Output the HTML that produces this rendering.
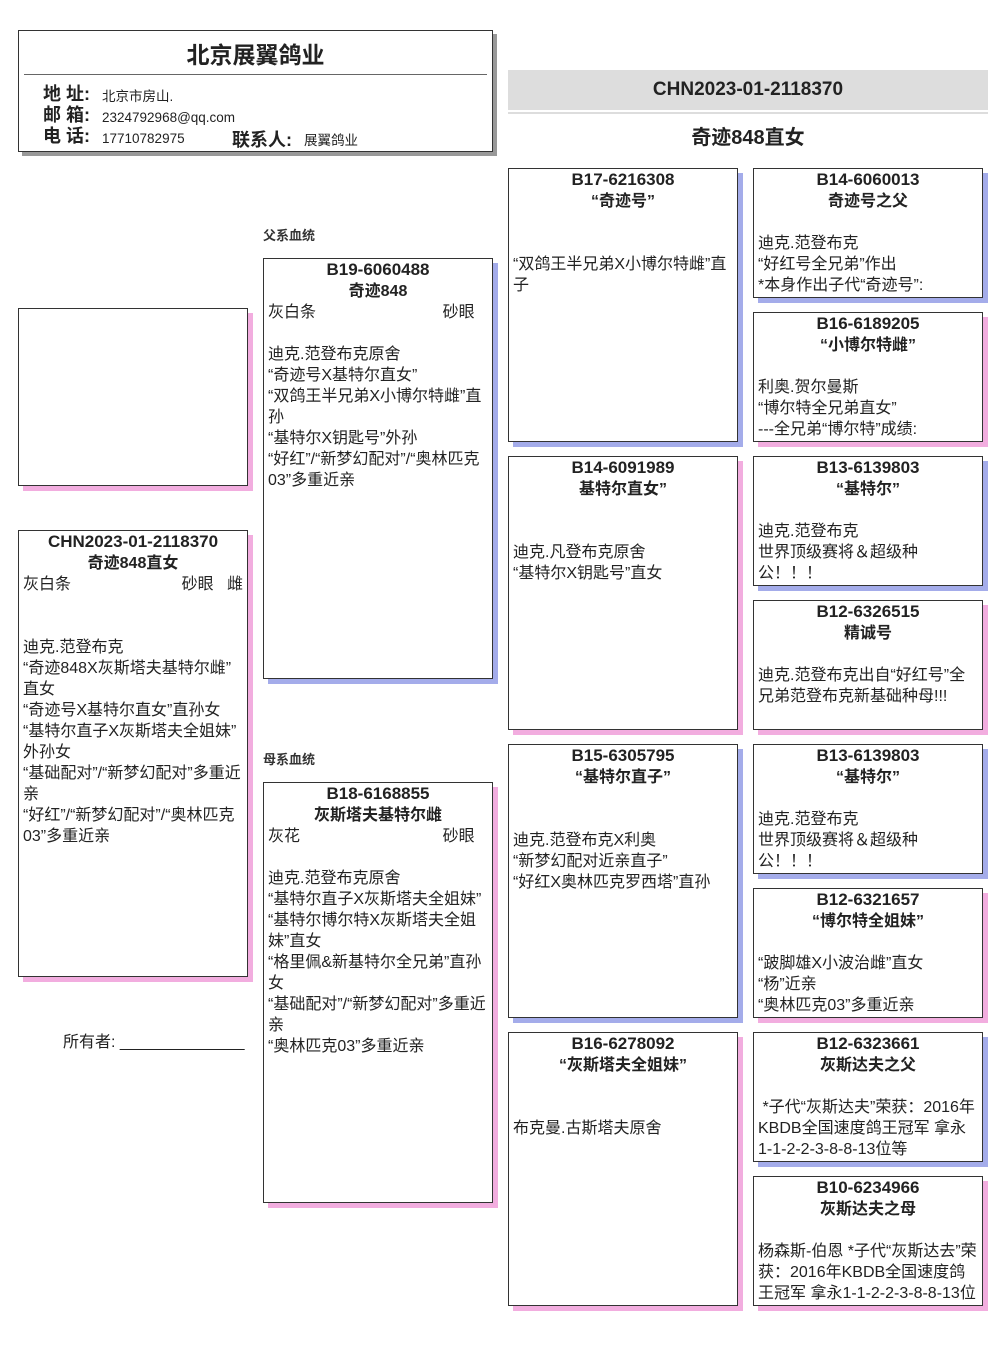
<!DOCTYPE html>
<html><head><meta charset="utf-8"><style>
*{margin:0;padding:0;box-sizing:border-box}
body{width:1006px;height:1366px;background:#fff;position:relative;overflow:hidden;font-family:"Liberation Sans","Noto Sans CJK SC",sans-serif;color:#222}
.b{position:absolute;border:1px solid #333;background:#fff;font-size:16px;line-height:21px;padding:0 4px;overflow:hidden;white-space:nowrap}
.m{box-shadow:5px 5px 0 #a4acea}
.f{box-shadow:5px 5px 0 #f2addf}
.t{font-weight:bold;text-align:center;font-size:17px}
.t span{font-size:16px}
.r{display:flex;justify-content:space-between}
.lab{position:absolute;font-size:13px;font-weight:bold;color:#333}
</style></head><body>
<div style="position:absolute;left:18px;top:30px;width:475px;height:122px;border:1px solid #333;box-shadow:4px 4px 0 #999;background:#fff">
<div style="text-align:center;font-size:23px;font-weight:bold;margin-top:5px">北京展翼鸽业</div>
<div style="position:absolute;left:5px;right:5px;top:43px;border-top:1px solid #666"></div>
<div style="position:absolute;left:24px;top:53px;font-size:18px;line-height:21px;font-weight:bold">地 址:<br>邮 箱:<br>电 话:</div>
<div style="position:absolute;left:83px;top:55px;font-size:13.5px;line-height:21px">北京市房山.<br>2324792968@qq.com<br>17710782975</div>
<div style="position:absolute;left:213px;top:95px;font-size:18px;font-weight:bold">联系人:</div>
<div style="position:absolute;left:285px;top:98px;font-size:13.5px">展翼鸽业</div>
</div>
<div style="position:absolute;left:508px;top:70px;width:480px;height:40px;background:#ddd;text-align:center;font-size:19px;font-weight:bold;line-height:40px">CHN2023-01-2118370</div>
<div style="position:absolute;left:508px;top:112px;width:480px;border-top:2px solid #ddd"></div>
<div style="position:absolute;left:508px;top:121px;width:480px;text-align:center;font-size:20px;font-weight:bold">奇迹848直女</div>

<div class="b f" style="left:18px;top:308px;width:230px;height:178px"></div>
<div class="b f" style="left:18px;top:530px;width:230px;height:447px">
<div class="t">CHN2023-01-2118370<br><span>奇迹848直女</span></div>
<div class="r"><span>灰白条</span><span>砂眼&nbsp;&nbsp;&nbsp;雌</span></div>
<br><br>迪克.范登布克<br>“奇迹848X灰斯塔夫基特尔雌”<br>直女<br>“奇迹号X基特尔直女”直孙女<br>“基特尔直子X灰斯塔夫全姐妹”<br>外孙女<br>“基础配对”/“新梦幻配对”多重近<br>亲<br>“好红”/“新梦幻配对”/“奥林匹克<br>03”多重近亲</div>
<div style="position:absolute;left:63px;top:1028px;font-size:16px">所有者: ______________</div>

<div class="lab" style="left:263px;top:225px">父系血统</div>
<div class="b m" style="left:263px;top:258px;width:230px;height:421px">
<div class="t">B19-6060488<br><span>奇迹848</span></div>
<div class="r"><span>灰白条</span><span>砂眼&nbsp;&nbsp;&nbsp;</span></div>
<br>迪克.范登布克原舍<br>“奇迹号X基特尔直女”<br>“双鸽王半兄弟X小博尔特雌”直<br>孙<br>“基特尔X钥匙号”外孙<br>“好红”/“新梦幻配对”/“奥林匹克<br>03”多重近亲</div>
<div class="lab" style="left:263px;top:749px">母系血统</div>
<div class="b f" style="left:263px;top:782px;width:230px;height:421px">
<div class="t">B18-6168855<br><span>灰斯塔夫基特尔雌</span></div>
<div class="r"><span>灰花</span><span>砂眼&nbsp;&nbsp;&nbsp;</span></div>
<br>迪克.范登布克原舍<br>“基特尔直子X灰斯塔夫全姐妹”<br>“基特尔博尔特X灰斯塔夫全姐<br>妹”直女<br>“格里佩&amp;新基特尔全兄弟”直孙<br>女<br>“基础配对”/“新梦幻配对”多重近<br>亲<br>“奥林匹克03”多重近亲</div>

<div class="b m" style="left:508px;top:168px;width:230px;height:274px"><div class="t">B17-6216308<br><span>“奇迹号”</span></div><br><br>“双鸽王半兄弟X小博尔特雌”直<br>子</div>
<div class="b f" style="left:508px;top:456px;width:230px;height:274px"><div class="t">B14-6091989<br><span>基特尔直女”</span></div><br><br>迪克.凡登布克原舍<br>“基特尔X钥匙号”直女</div>
<div class="b m" style="left:508px;top:744px;width:230px;height:274px"><div class="t">B15-6305795<br><span>“基特尔直子”</span></div><br><br>迪克.范登布克X利奥<br>“新梦幻配对近亲直子”<br>“好红X奥林匹克罗西塔”直孙</div>
<div class="b f" style="left:508px;top:1032px;width:230px;height:274px"><div class="t">B16-6278092<br><span>“灰斯塔夫全姐妹”</span></div><br><br>布克曼.古斯塔夫原舍</div>

<div class="b m" style="left:753px;top:168px;width:230px;height:130px"><div class="t">B14-6060013<br><span>奇迹号之父</span></div><br>迪克.范登布克<br>“好红号全兄弟”作出<br>*本身作出子代“奇迹号”:</div>
<div class="b f" style="left:753px;top:312px;width:230px;height:130px"><div class="t">B16-6189205<br><span>“小博尔特雌”</span></div><br>利奥.贺尔曼斯<br>“博尔特全兄弟直女”<br>---全兄弟“博尔特”成绩:</div>
<div class="b m" style="left:753px;top:456px;width:230px;height:130px"><div class="t">B13-6139803<br><span>“基特尔”</span></div><br>迪克.范登布克<br>世界顶级赛将＆超级种<br>公！！！</div>
<div class="b f" style="left:753px;top:600px;width:230px;height:130px"><div class="t">B12-6326515<br><span>精诚号</span></div><br>迪克.范登布克出自“好红号”全<br>兄弟范登布克新基础种母!!!</div>
<div class="b m" style="left:753px;top:744px;width:230px;height:130px"><div class="t">B13-6139803<br><span>“基特尔”</span></div><br>迪克.范登布克<br>世界顶级赛将＆超级种<br>公！！！</div>
<div class="b f" style="left:753px;top:888px;width:230px;height:130px"><div class="t">B12-6321657<br><span>“博尔特全姐妹”</span></div><br>“跛脚雄X小波治雌”直女<br>“杨”近亲<br>“奥林匹克03”多重近亲</div>
<div class="b m" style="left:753px;top:1032px;width:230px;height:130px"><div class="t">B12-6323661<br><span>灰斯达夫之父</span></div><br>&nbsp;*子代“灰斯达夫”荣获：2016年<br>KBDB全国速度鸽王冠军 拿永<br>1-1-2-2-3-8-8-13位等</div>
<div class="b f" style="left:753px;top:1176px;width:230px;height:130px"><div class="t">B10-6234966<br><span>灰斯达夫之母</span></div><br>杨森斯-伯恩 *子代“灰斯达去”荣<br>获：2016年KBDB全国速度鸽<br>王冠军 拿永1-1-2-2-3-8-8-13位</div>
</body></html>
